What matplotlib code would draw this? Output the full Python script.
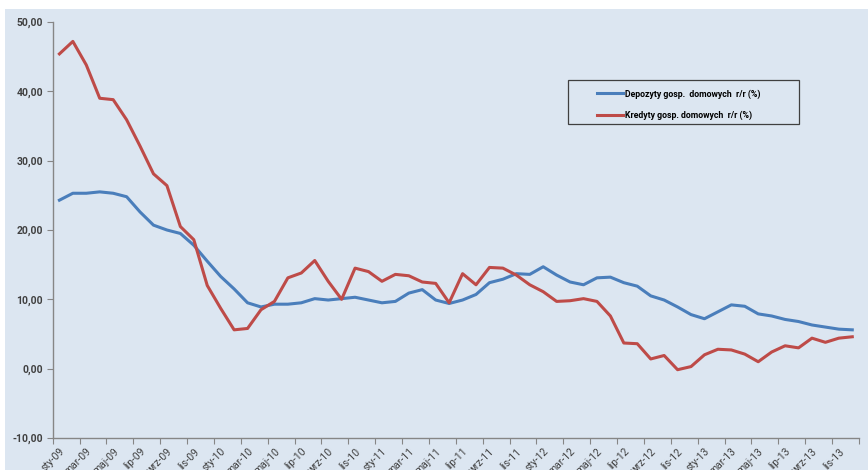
import matplotlib
matplotlib.use("Agg")
import matplotlib.pyplot as plt
from matplotlib.patches import Rectangle
import numpy as np

plt.rcParams["font.family"] = ["Roboto", "DejaVu Sans"]

months_pl = ["sty", "lut", "mar", "kwi", "maj", "cze", "lip", "sie", "wrz", "paź", "lis", "gru"]
years = ["09", "10", "11", "12", "13"]
categories = [f"{m}-{y}" for y in years for m in months_pl]

deposits = [24.3, 25.3, 25.3, 25.5, 25.3, 24.8, 22.6, 20.7, 20.0, 19.5,
            17.8, 15.5, 13.3, 11.5, 9.5, 8.9, 9.3, 9.3, 9.5, 10.1,
            9.9, 10.1, 10.3, 9.9, 9.5, 9.7, 10.9, 11.4, 9.9, 9.4,
            9.9, 10.7, 12.4, 12.9, 13.7, 13.6, 14.7, 13.5, 12.5, 12.1,
            13.1, 13.2, 12.4, 11.9, 10.5, 9.9, 8.9, 7.8, 7.2, 8.2,
            9.2, 9.0, 7.9, 7.6, 7.1, 6.8, 6.3, 6.0, 5.7, 5.6]

loans = [45.4, 47.2, 43.8, 39.0, 38.8, 35.9, 32.1, 28.1, 26.4, 20.5,
         18.6, 12.0, 8.7, 5.6, 5.8, 8.5, 9.7, 13.1, 13.8, 15.6,
         12.6, 10.0, 14.5, 14.0, 12.6, 13.6, 13.4, 12.5, 12.3, 9.5,
         13.7, 12.1, 14.6, 14.5, 13.5, 12.1, 11.1, 9.7, 9.8, 10.1,
         9.7, 7.6, 3.7, 3.6, 1.4, 1.9, -0.15, 0.3, 2.0, 2.8,
         2.7, 2.1, 1.0, 2.4, 3.3, 3.0, 4.4, 3.8, 4.4, 4.6]

series_names = ["Depozyty gosp.  domowych  r/r (%)", "Kredyty gosp. domowych  r/r (%)"]
yticks = [-10, 0, 10, 20, 30, 40, 50]

BG = "#DCE6F1"
W, H = 868, 470
fig = plt.figure(figsize=(W / 100, H / 100), dpi=100)
fig.patch.set_facecolor("white")
bg = Rectangle((5 / W, 0), 1 - 5 / W, 1 - 9 / H, transform=fig.transFigure,
               facecolor=BG, edgecolor="none", zorder=-10)
fig.add_artist(bg)

ax = fig.add_axes([52.7 / W, 1 - 438 / H, (859 - 52.7) / W, (438 - 22) / H])
ax.set_facecolor(BG)
ax.set_zorder(1)

x = np.arange(len(categories))
ax.plot(x, deposits, color="#4A7EBB", lw=2.2, label=series_names[0], solid_joinstyle="round")
ax.plot(x, loans, color="#BE4B48", lw=2.2, label=series_names[1], solid_joinstyle="round")

ax.set_xlim(-0.5, len(categories) - 0.5)
ax.set_ylim(-10, 50)

for s in ["top", "right"]:
    ax.spines[s].set_visible(False)
for s in ["left", "bottom"]:
    ax.spines[s].set_color("#868686")
    ax.spines[s].set_linewidth(1.0)

ax.set_yticks(yticks)
ax.set_yticklabels([f"{v:.2f}".replace(".", ",") for v in yticks],
                   fontsize=7.5, fontweight="bold", color="#404040")
ax.tick_params(axis="y", direction="out", length=4, color="#868686", pad=3)

ax.set_xticks(np.arange(-0.5, len(categories), 2))
ax.set_xticklabels([])
ax.tick_params(axis="x", which="major", direction="out", length=4, color="#868686")
ax.set_xticks(x[::2], minor=True)
ax.set_xticklabels(categories[::2], minor=True, rotation=45, ha="right",
                   rotation_mode="anchor", fontsize=7.5, color="#404040")
ax.tick_params(axis="x", which="minor", length=0, pad=6)

# legend box
lx0, ly0, lx1, ly1 = 568, 80, 799, 124
box = Rectangle((lx0 / W, 1 - ly1 / H), (lx1 - lx0) / W, (ly1 - ly0) / H,
                transform=fig.transFigure, facecolor=BG, edgecolor="#404040",
                lw=0.9, zorder=8, clip_on=False)
ax.add_artist(box)
leg = ax.legend(loc="upper left", bbox_to_anchor=(591 / W, 1 - 83 / H),
                bbox_transform=fig.transFigure, frameon=False,
                prop={"size": 6.3, "weight": "bold"}, handlelength=3.0,
                handletextpad=0.15, labelspacing=1.4, borderpad=0.2)
leg.set_zorder(10)

fig.savefig("out.png", dpi=100, facecolor="white")
